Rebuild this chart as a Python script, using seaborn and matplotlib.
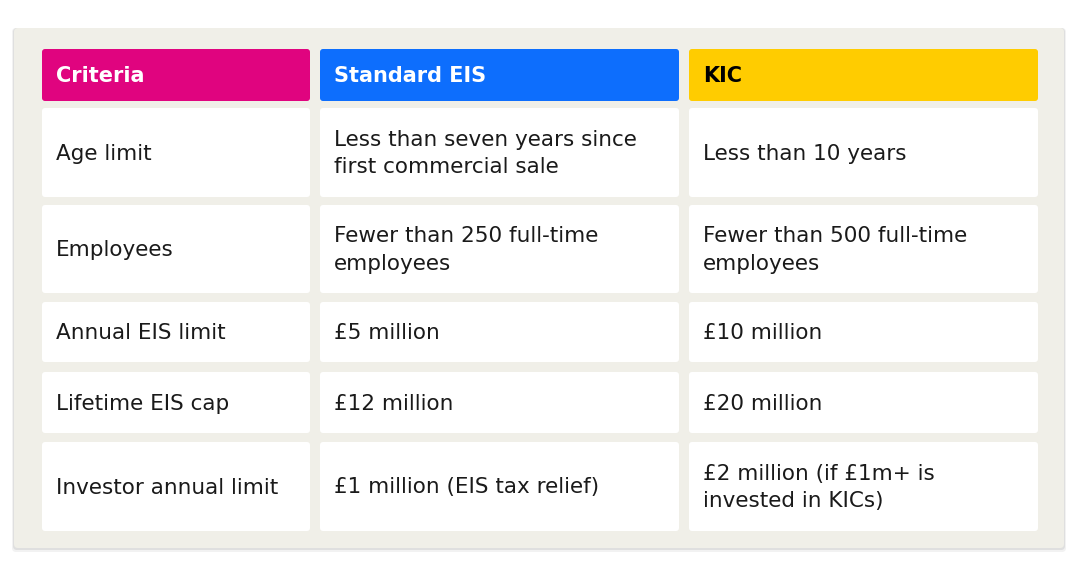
import matplotlib
matplotlib.use("Agg")
import matplotlib.pyplot as plt
from matplotlib.patches import FancyBboxPatch
import seaborn as sns

headers = ["Criteria", "Standard EIS", "KIC"]
criteria = ["Age limit", "Employees", "Annual EIS limit", "Lifetime EIS cap", "Investor annual limit"]
standard_eis = ["Less than seven years since\nfirst commercial sale", "Fewer than 250 full-time\nemployees",
                "£5 million", "£12 million", "£1 million (EIS tax relief)"]
kic = ["Less than 10 years", "Fewer than 500 full-time\nemployees", "£10 million", "£20 million",
       "£2 million (if £1m+ is\ninvested in KICs)"]

# layout (pixels)
col_x = [(42, 310), (320, 679), (689, 1038)]
row_y = [(49, 101), (108, 197), (205, 293), (302, 362), (372, 433), (442, 531)]
header_colors = ["#e0047f", "#0d6efd", "#ffcc00"]
header_text = ["white", "white", "black"]

sns.set_theme(style="white")
fig = plt.figure(figsize=(10.8, 5.73), dpi=100)
ax = fig.add_axes([0, 0, 1, 1])
ax.set_xlim(0, 1080)
ax.set_ylim(573, 0)
ax.axis("off")
fig.patch.set_facecolor("white")

# shadow + panel
for off, a in [(4, 0.05), (2, 0.08)]:
    ax.add_patch(FancyBboxPatch((14 - off / 2, 28), 1050 + off, 520 + off, boxstyle="round,pad=0,rounding_size=4",
                                fc="black", ec="none", alpha=a))
ax.add_patch(FancyBboxPatch((14, 28), 1050, 520, boxstyle="round,pad=0,rounding_size=4", fc="#f0efe8", ec="none"))

table = [headers] + [list(r) for r in zip(criteria, standard_eis, kic)]
for ri, row in enumerate(table):
    y0, y1 = row_y[ri]
    for ci, txt in enumerate(row):
        x0, x1 = col_x[ci]
        fc = header_colors[ci] if ri == 0 else "white"
        ax.add_patch(FancyBboxPatch((x0, y0), x1 - x0, y1 - y0, boxstyle="round,pad=0,rounding_size=3",
                                    fc=fc, ec="none"))
        if ri == 0:
            ax.text(x0 + 14, (y0 + y1) / 2 + 1, txt, color=header_text[ci], fontsize=15, fontweight="bold",
                    va="center", ha="left", family="DejaVu Sans")
        else:
            ax.text(x0 + 14, (y0 + y1) / 2 + 1, txt, color="#1a1a1a", fontsize=15.5, va="center", ha="left",
                    family="DejaVu Sans", linespacing=1.45)

fig.savefig("out.png", dpi=100, facecolor="white")
